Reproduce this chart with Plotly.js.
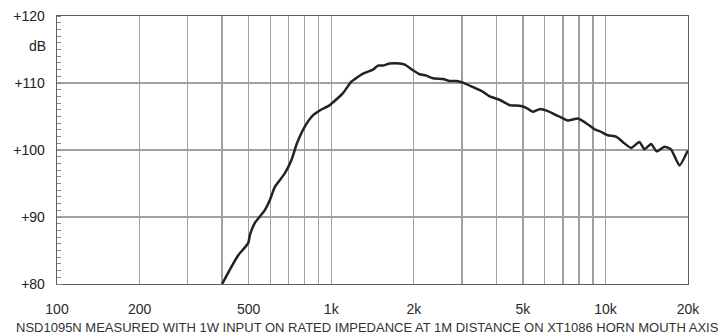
<!DOCTYPE html>
<html>
<head>
<meta charset="utf-8">
<script src="https://cdn.plot.ly/plotly-3.0.1.min.js"></script>
<style>
html,body{margin:0;padding:0;background:#fff;}
#chart{width:722px;height:334px;}
</style>
</head>
<body>
<div id="chart"></div>
<script>
// Frequency response (Hz, dB SPL)
const freqHz = [400, 433, 458, 498, 505, 526, 572, 597, 623, 677, 716, 750, 801, 859, 908, 988, 1104, 1184, 1306, 1420, 1481, 1544, 1634, 1777, 1862, 1986, 2101, 2223, 2349, 2554, 2702, 2858, 3000, 3286, 3573, 3779, 4111, 4469, 4861, 5142, 5435, 5750, 6163, 6702, 7289, 7927, 8506, 9120, 9643, 10190, 10935, 11563, 12410, 13300, 13870, 14670, 15380, 16400, 17340, 18610, 19950];
const splDb = [80, 82.6, 84.3, 86.1, 87.3, 89.1, 91.0, 92.5, 94.5, 96.5, 98.5, 101.0, 103.5, 105.2, 105.9, 106.7, 108.5, 110.2, 111.4, 112.0, 112.6, 112.6, 112.9, 112.9, 112.7, 111.9, 111.3, 111.1, 110.7, 110.6, 110.3, 110.3, 110.1, 109.4, 108.7, 108.0, 107.5, 106.7, 106.6, 106.3, 105.7, 106.1, 105.8, 105.1, 104.4, 104.7, 104.0, 103.1, 102.7, 102.2, 102.0, 101.2, 100.3, 101.2, 100.1, 100.9, 99.8, 100.5, 100.1, 97.7, 99.9];

// Axis ticks
const xGridVals = [100, 200, 300, 400, 500, 600, 700, 800, 900, 1000, 2000, 3000, 4000, 5000, 6000, 7000, 8000, 9000, 10000, 20000];
const xGridText = ["100", "200", "", "", "500", "", "", "", "", "1k", "2k", "", "", "5k", "", "", "", "", "10k", "20k"];
const yTickVals = [80, 90, 100, 110, 120];
const yTickText = ["+80", "+90", "+100", "+110", "+120"];
const yUnitLabel = "dB";
const yUnitPos = 115.5;
const caption = "NSD1095N MEASURED WITH 1W INPUT ON RATED IMPEDANCE AT 1M DISTANCE ON XT1086 HORN MOUTH AXIS";

const trace = {
  x: freqHz, y: splDb, type: 'scatter', mode: 'lines',
  line: {color: '#222222', width: 2.5, shape: 'spline', smoothing: 0.5},
  hoverinfo: 'skip'
};

const layout = {
  width: 722, height: 334,
  margin: {l: 57, r: 34, t: 16, b: 50},
  paper_bgcolor: '#ffffff', plot_bgcolor: '#ffffff',
  showlegend: false,
  font: {family: 'Liberation Sans, Arial, sans-serif', color: '#222', size: 14},
  xaxis: {
    type: 'log', range: [Math.log10(100), Math.log10(20000)],
    tickmode: 'array', tickvals: xGridVals, ticktext: xGridText,
    showgrid: true, gridcolor: '#a0a0a0', gridwidth: 1.3,
    showline: true, linecolor: '#606060', linewidth: 1.3, mirror: true,
    ticks: '', ticklabelstandoff: 12,
    tickfont: {size: 14, color: '#2a2a2a', family: 'Liberation Sans, Arial, sans-serif'},
    zeroline: false, fixedrange: true
  },
  yaxis: {
    range: [80, 120],
    tickmode: 'array', tickvals: yTickVals, ticktext: yTickText,
    showgrid: true, gridcolor: '#a0a0a0', gridwidth: 1.3,
    showline: true, linecolor: '#606060', linewidth: 1.3, mirror: true,
    ticks: '', ticklabelstandoff: 8,
    tickfont: {size: 14, color: '#222'},
    minor: {dtick: 1, ticks: 'inside', ticklen: 4, tickcolor: '#8a8a8a', tickwidth: 1, showgrid: false},
    zeroline: false, fixedrange: true
  },
  annotations: [
    {xref: 'paper', yref: 'y', x: 0, y: yUnitPos, xanchor: 'right', yanchor: 'middle', xshift: -9,
     text: yUnitLabel, showarrow: false, font: {size: 14, color: '#222'}},
    {xref: 'paper', yref: 'paper', x: 0.5, y: 0, xanchor: 'center', yanchor: 'middle', yshift: -43, xshift: -5,
     text: caption, showarrow: false, font: {size: 13, color: '#333', family: 'Liberation Sans, Arial, sans-serif'}}
  ]
};

Plotly.newPlot('chart', [trace], layout, {displayModeBar: false, staticPlot: true});
</script>
</body>
</html>
